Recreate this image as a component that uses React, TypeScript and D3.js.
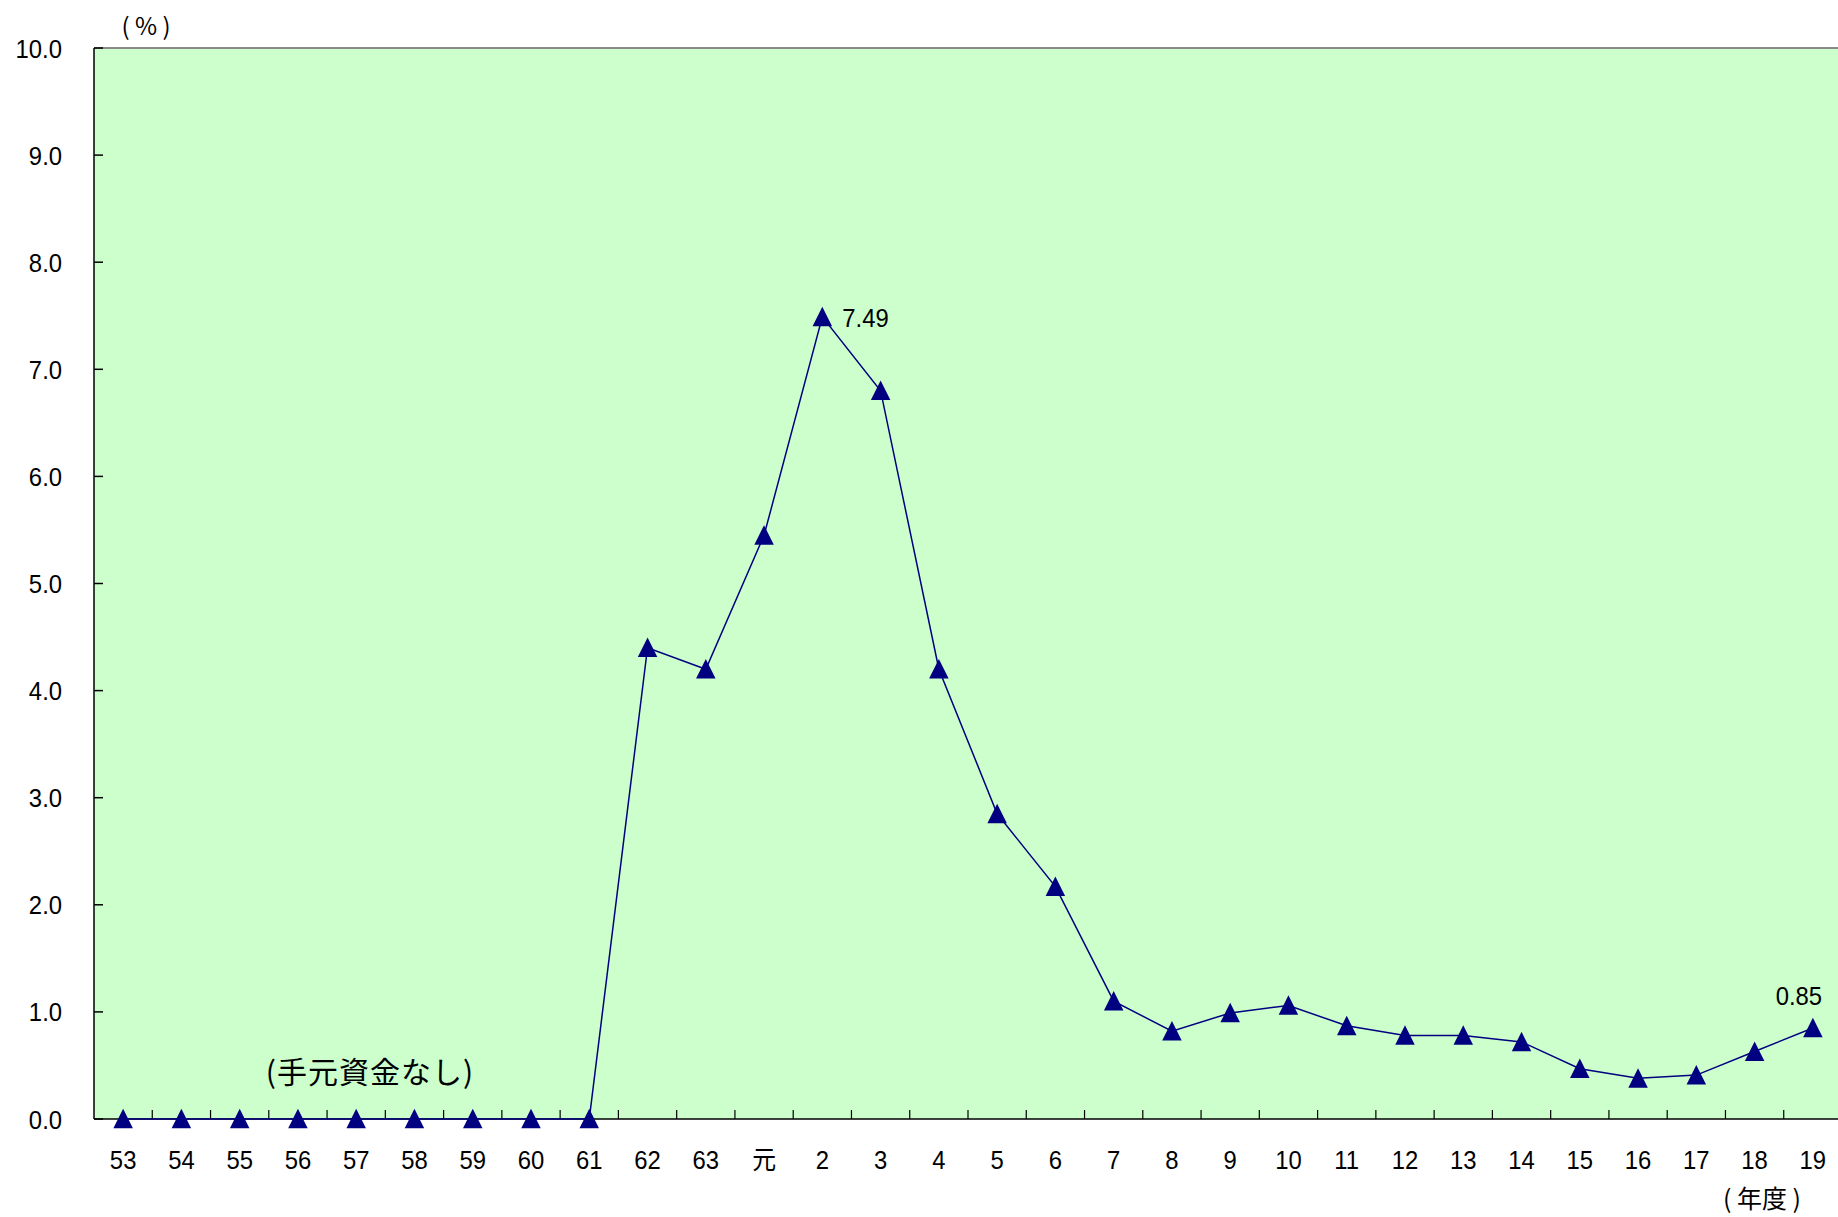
import React from "react";
import * as d3 from "d3";

const categories = ["53","54","55","56","57","58","59","60","61","62","63","元","2","3","4","5","6","7","8","9","10","11","12","13","14","15","16","17","18","19"];
const values = [0,0,0,0,0,0,0,0,0,4.4,4.2,5.45,7.49,6.8,4.2,2.85,2.17,1.1,0.82,0.99,1.06,0.87,0.78,0.78,0.72,0.47,0.38,0.41,0.63,0.85];
const yTicks = [0,1,2,3,4,5,6,7,8,9,10];
const annotations = [
  { index: 12, text: "7.49", pos: "right" },
  { index: 29, text: "0.85", pos: "above" },
];

const W = 1838, H = 1217;
const M = { left: 94, right: 1842, top: 48, bottom: 1119 };
const FONT = "'Liberation Sans', Arial, 'Noto Sans CJK JP', sans-serif";
const CJK = "'Noto Sans CJK JP', sans-serif";
const FS = 26.5;
const SX = 0.9;

const triangle = {
  draw(ctx: any, size: number) {
    const h = Math.sqrt(size);
    ctx.moveTo(0, -h * 0.52);
    ctx.lineTo(h * 0.5, h * 0.48);
    ctx.lineTo(-h * 0.5, h * 0.48);
    ctx.closePath();
  },
};

function Label({ x, y, anchor, children, fontFamily }: any) {
  return (
    <text
      transform={`translate(${x},${y}) scale(${SX},1)`}
      textAnchor={anchor || "start"}
      fontSize={FS}
      fontFamily={fontFamily}
      fill="#000"
    >
      {children}
    </text>
  );
}

export default function App() {
  const x = d3.scaleBand<string>().domain(categories).range([M.left, M.right]).padding(0);
  const y = d3.scaleLinear().domain([0, 10]).range([M.bottom, M.top]);
  const cx = (i: number) => (x(categories[i]) as number) + x.bandwidth() / 2;
  const line = d3.line<number>().x((_, i) => cx(i)).y((d) => y(d));
  const sym = d3.symbol().type(triangle as any).size(19.5 * 19.5)();
  const boundaries = categories.slice(1).map((c) => x(c) as number);

  return (
    <svg width={W} height={H} style={{ position: "absolute", left: 0, top: 0, background: "#fff" }} fontFamily={FONT}>
      <rect x={M.left} y={M.top} width={M.right - M.left} height={M.bottom - M.top} fill="#CCFFCC" />
      <line x1={M.left} x2={M.right} y1={M.top} y2={M.top} stroke="#8a8a8a" strokeWidth={2} />
      {/* y axis */}
      <line x1={M.left} x2={M.left} y1={M.top} y2={M.bottom} stroke="#000" strokeWidth={1.5} />
      {yTicks.map((t) => (
        <g key={t}>
          <line x1={M.left} x2={M.left + 9} y1={y(t)} y2={y(t)} stroke="#000" strokeWidth={1.5} />
          <Label x={62} y={y(t) + 9.5} anchor="end">{t.toFixed(1)}</Label>
        </g>
      ))}
      {/* x axis */}
      {boundaries.map((b, i) => (
        <line key={i} x1={b} x2={b} y1={M.bottom} y2={M.bottom - 9} stroke="#000" strokeWidth={1.2} />
      ))}
      {categories.map((c, i) => (
        <Label key={c} x={cx(i)} y={1169} anchor="middle" fontFamily={c === "元" ? CJK : undefined}>{c}</Label>
      ))}
      <line x1={M.left} x2={M.right} y1={M.bottom} y2={M.bottom} stroke="#000" strokeWidth={1.5} />
      {/* series */}
      <path d={line(values) as string} fill="none" stroke="#000080" strokeWidth={1.5} />
      {values.map((v, i) => (
        <path key={i} d={sym as string} transform={`translate(${cx(i)},${y(v)})`} fill="#000080" />
      ))}
      {annotations.map((a) =>
        a.pos === "right" ? (
          <Label key={a.index} x={cx(a.index) + 20} y={y(values[a.index]) + 10}>{a.text}</Label>
        ) : (
          <Label key={a.index} x={cx(a.index) - 14} y={y(values[a.index]) - 23} anchor="middle">{a.text}</Label>
        )
      )}
      <text x={370} y={1083} textAnchor="middle" fontSize={30} letterSpacing={1} fontFamily={CJK} fill="#000">(手元資金なし)</text>
      <text x={146} y={35} textAnchor="middle" fontSize={24} fontFamily={CJK} fill="#000">( % )</text>
      <text x={1762} y={1208} textAnchor="middle" fontSize={25} fontFamily={CJK} fill="#000">( 年度 )</text>
    </svg>
  );
}
